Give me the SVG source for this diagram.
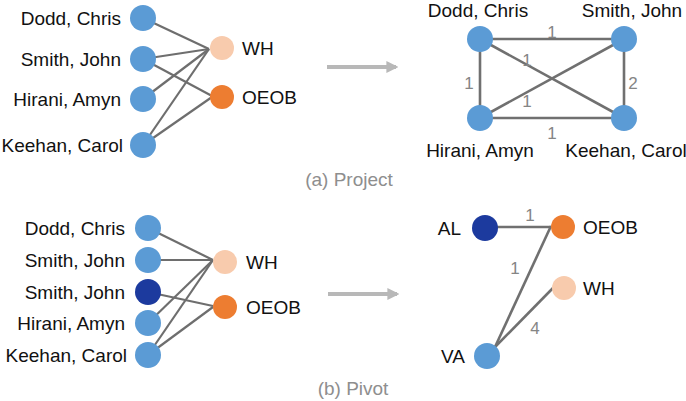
<svg xmlns="http://www.w3.org/2000/svg" width="686" height="401" viewBox="0 0 686 401">
<defs>
<style>
.lbl{font-family:"Liberation Sans",Arial,sans-serif;font-size:19px;fill:#111}
.end{text-anchor:end}
.mid{text-anchor:middle}
.w{font-family:"Liberation Sans",Arial,sans-serif;font-size:17px;fill:#858585;text-anchor:middle}
.cap{font-family:"Liberation Sans",Arial,sans-serif;font-size:19px;fill:#8e8e8e;text-anchor:middle}
.e{stroke:#6e6e6e;stroke-width:2.2;fill:none}
.e2{stroke:#707070;stroke-width:2.6;fill:none}
.arr{stroke:#b8b8b8;stroke-width:4;fill:none}
.blue{fill:#5B9BD5}
.dark{fill:#1C3A9E}
.lo{fill:#F8CBAD}
.or{fill:#ED7D31}
</style>
<marker id="ah" viewBox="0 0 10 10" refX="8" refY="5" markerWidth="3" markerHeight="3" orient="auto" markerUnits="strokeWidth">
<path d="M0,0 L10,5 L0,10 z" fill="#b8b8b8"/>
</marker>
</defs>
<rect width="686" height="401" fill="#fff"/>

<g id="connectors">
<!-- (a) bipartite -->
<line class="e" x1="143" y1="18" x2="209" y2="49"/>
<line class="e" x1="143" y1="59" x2="209" y2="49"/>
<line class="e" x1="143" y1="59" x2="212" y2="96"/>
<line class="e" x1="143" y1="99" x2="209" y2="49"/>
<line class="e" x1="143" y1="145" x2="209" y2="49"/>
<line class="e" x1="143" y1="145" x2="212" y2="97"/>
<!-- (a) projection -->
<line class="e2" x1="480" y1="39" x2="624" y2="39"/>
<line class="e2" x1="480" y1="39" x2="480" y2="118"/>
<line class="e2" x1="624" y1="39" x2="624" y2="118"/>
<line class="e2" x1="480" y1="118" x2="624" y2="118"/>
<line class="e2" x1="480" y1="39" x2="624" y2="118"/>
<line class="e2" x1="624" y1="39" x2="480" y2="118"/>
<!-- (b) bipartite -->
<line class="e" x1="148" y1="228" x2="213" y2="260"/>
<line class="e" x1="148" y1="260" x2="213" y2="260"/>
<line class="e" x1="148" y1="292" x2="213" y2="306"/>
<line class="e" x1="148" y1="323" x2="213" y2="260"/>
<line class="e" x1="148" y1="355" x2="213" y2="260"/>
<line class="e" x1="148" y1="355" x2="213" y2="307"/>
<!-- (b) pivot -->
<line class="e2" x1="485" y1="227" x2="551" y2="227"/>
<line class="e2" x1="495" y1="347" x2="551" y2="226"/>
<line class="e2" x1="495" y1="347" x2="553" y2="288"/>
<!-- arrows -->
<line class="arr" x1="327" y1="67" x2="396" y2="67" marker-end="url(#ah)"/>
<line class="arr" x1="328" y1="294" x2="397" y2="294" marker-end="url(#ah)"/>
</g>

<g id="edge-labels">
<text class="w" x="552" y="38">1</text>
<text class="w" x="527" y="66">1</text>
<text class="w" x="469" y="89">1</text>
<text class="w" x="633" y="89">2</text>
<text class="w" x="527" y="107">1</text>
<text class="w" x="552" y="139">1</text>
<text class="w" x="530" y="221">1</text>
<text class="w" x="515" y="274">1</text>
<text class="w" x="535" y="334">4</text>
</g>

<g id="a-dodd"><circle class="blue" cx="143" cy="18" r="13"/><text class="lbl end" x="121" y="24.5">Dodd, Chris</text></g>
<g id="a-smith"><circle class="blue" cx="143" cy="59" r="13"/><text class="lbl end" x="121" y="65.5">Smith, John</text></g>
<g id="a-hirani"><circle class="blue" cx="143" cy="99" r="13"/><text class="lbl end" x="121" y="105.5">Hirani, Amyn</text></g>
<g id="a-keehan"><circle class="blue" cx="143" cy="145" r="13"/><text class="lbl end" x="123" y="151.5">Keehan, Carol</text></g>
<g id="a-wh"><circle class="lo" cx="222" cy="48" r="12"/><text class="lbl" x="242" y="55">WH</text></g>
<g id="a-oeob"><circle class="or" cx="222" cy="97" r="12"/><text class="lbl" x="242" y="104">OEOB</text></g>

<g id="p-dodd"><circle class="blue" cx="480" cy="39" r="13"/><text class="lbl mid" x="478" y="17">Dodd, Chris</text></g>
<g id="p-smith"><circle class="blue" cx="624" cy="39" r="13"/><text class="lbl mid" x="632" y="17">Smith, John</text></g>
<g id="p-hirani"><circle class="blue" cx="480" cy="118" r="13"/><text class="lbl mid" x="480" y="157">Hirani, Amyn</text></g>
<g id="p-keehan"><circle class="blue" cx="624" cy="118" r="13"/><text class="lbl mid" x="626" y="157">Keehan, Carol</text></g>

<text id="cap-a" class="cap" x="349" y="186">(a) Project</text>

<g id="b-dodd"><circle class="blue" cx="148" cy="228" r="13"/><text class="lbl end" x="125" y="234.5">Dodd, Chris</text></g>
<g id="b-smith"><circle class="blue" cx="148" cy="260" r="13"/><text class="lbl end" x="125" y="266.5">Smith, John</text></g>
<g id="b-smith2"><circle class="dark" cx="148" cy="292" r="13"/><text class="lbl end" x="125" y="298.5">Smith, John</text></g>
<g id="b-hirani"><circle class="blue" cx="148" cy="323" r="13"/><text class="lbl end" x="125" y="329.5">Hirani, Amyn</text></g>
<g id="b-keehan"><circle class="blue" cx="148" cy="355" r="13"/><text class="lbl end" x="127" y="361.5">Keehan, Carol</text></g>
<g id="b-wh"><circle class="lo" cx="225" cy="262" r="12"/><text class="lbl" x="246" y="269">WH</text></g>
<g id="b-oeob"><circle class="or" cx="225" cy="307" r="12"/><text class="lbl" x="246" y="314">OEOB</text></g>

<g id="v-al"><circle class="dark" cx="485" cy="228" r="13"/><text class="lbl end" x="461" y="235">AL</text></g>
<g id="v-oeob"><circle class="or" cx="563" cy="227" r="12"/><text class="lbl" x="583" y="234">OEOB</text></g>
<g id="v-wh"><circle class="lo" cx="564" cy="288" r="12"/><text class="lbl" x="583" y="295">WH</text></g>
<g id="v-va"><circle class="blue" cx="487" cy="356" r="13"/><text class="lbl end" x="465" y="363">VA</text></g>

<text id="cap-b" class="cap" x="353" y="395">(b) Pivot</text>
</svg>
